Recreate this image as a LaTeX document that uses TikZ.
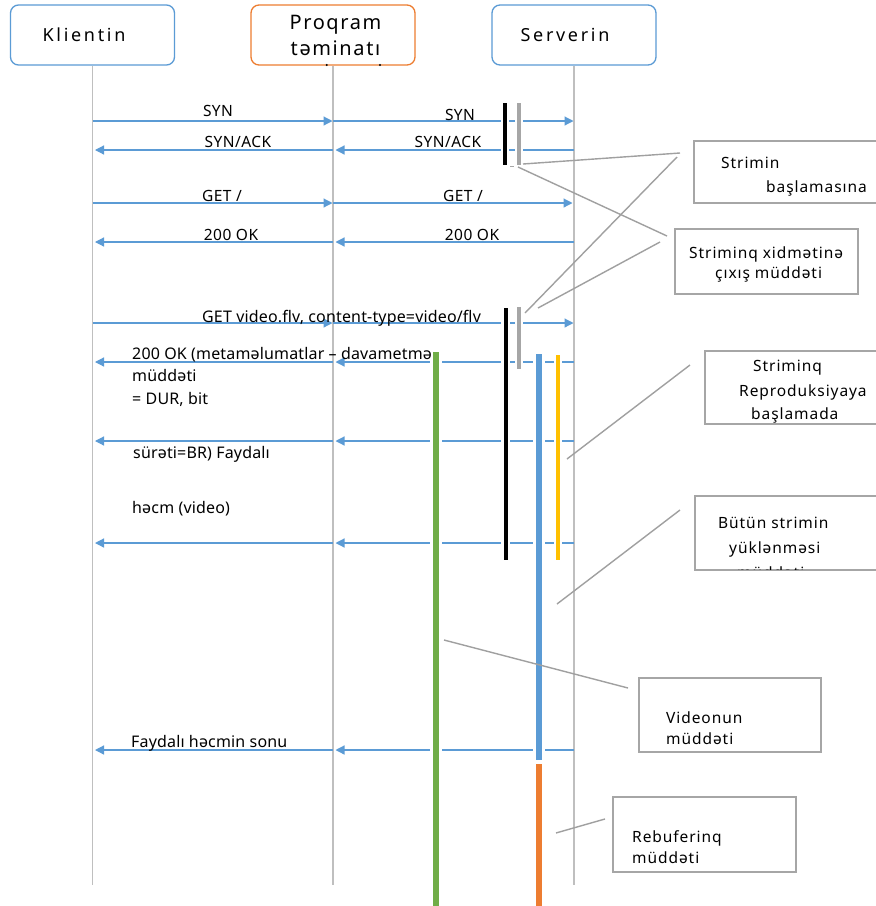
\documentclass[tikz,border=0pt]{standalone}
\usepackage{fontspec}
\setmainfont{Noto Sans}
\newfontfamily\headfont[LetterSpace=15]{Noto Sans}
\newfontfamily\progfont[LetterSpace=8]{Noto Sans}
\newfontfamily\calfont[LetterSpace=6]{Noto Sans}
\newfontfamily\lblfont[LetterSpace=3]{Noto Sans}
\newfontfamily\msgfont[LetterSpace=1]{Noto Sans}
\usetikzlibrary{arrows.meta}
\definecolor{cblue}{HTML}{5B9BD5}
\definecolor{corange}{HTML}{ED7D31}
\definecolor{cgreen}{HTML}{70AD47}
\definecolor{cyellow}{HTML}{FFC000}
\definecolor{boxgray}{HTML}{A6A6A6}
\definecolor{lifegray}{HTML}{BFBFBF}
\definecolor{leadgray}{HTML}{A0A0A0}
\newcommand\mybar[6]{%
  \draw[white, line width=#3] (#4,#5) -- (#4,#6);
  \draw[#1, line width=#2] (#4,#5) -- (#4,#6);}
\begin{document}
\begin{tikzpicture}[x=1pt,y=-1pt,
  headbox/.style={draw, rounded corners=8pt, minimum width=164pt, minimum height=60pt,
    line width=1.3pt, inner sep=0pt},
  headtxt/.style={inner sep=0pt, align=center, text=black, font=\headfont\fontsize{18}{26}\selectfont},
  life/.style={draw=lifegray, line width=1.2pt},
  msg/.style={draw=cblue, line width=1.2pt, -{Triangle[length=9pt,width=9pt]}},
  lbl/.style={inner sep=0pt, font=\lblfont\fontsize{15.5}{18}\selectfont},
  msgtxt/.style={inner sep=0pt, anchor=base west, font=\msgfont\fontsize{16}{18}\selectfont},
  cbox/.style={draw=boxgray, line width=1.6pt, inner sep=0pt},
  ctxt/.style={inner sep=0pt, anchor=base west, font=\calfont\fontsize{15.5}{18}\selectfont},
  lead/.style={draw=leadgray, line width=1.4pt}]
\useasboundingbox (0,0) rectangle (876,906);
\clip (0,0) rectangle (876,906);
\fill[white] (0,0) rectangle (876,906);

% heads
\node[headbox, draw=cblue] (K) at (92.5,35) {};
\node[headbox, draw=corange] (P) at (333,35) {};
\node[headbox, draw=cblue] (S) at (574,35) {};
\node[headtxt] (Kt) at (84,35) {Klientin};
\node[headtxt, font=\progfont\fontsize{20}{26}\selectfont, text depth=0pt] (Pt) at (335.5,35) {Proqram\\təminatı};
\node[headtxt] (St) at (565,35) {Serverin};
\fill (326.7,65) circle (1.1);
\fill (380,65) circle (1.1);

% rows
\coordinate (yend) at (0,885);
\coordinate (r1) at (0,121);
\coordinate (r2) at (0,150);
\coordinate (r3) at (0,203);
\coordinate (r4) at (0,242);
\coordinate (r5) at (0,323);
\coordinate (r6) at (0,362);
\coordinate (r7) at (0,441);
\coordinate (r8) at (0,543);
\coordinate (r9) at (0,750);

% lifelines
\draw[life] (K.south) -- (K |- yend);
\draw[life] (P.south) -- (P |- yend);
\draw[life] (S.south) -- (S |- yend);

% messages
\draw[msg, shorten >=0.5pt] (K |- r1) -- (P |- r1);
\draw[msg, shorten >=0.5pt] (P |- r1) -- (S |- r1);
\draw[msg, shorten >=2.5pt] (S |- r2) -- (P |- r2);
\draw[msg, shorten >=2.5pt] (P |- r2) -- (K |- r2);
\draw[msg, shorten >=0.5pt] (K |- r3) -- (P |- r3);
\draw[msg, shorten >=1.5pt] (P |- r3) -- (S |- r3);
\draw[msg, shorten >=2.5pt] (S |- r4) -- (P |- r4);
\draw[msg, shorten >=2.5pt] (P |- r4) -- (K |- r4);
\draw[msg, shorten >=0.5pt] (K |- r5) -- (P |- r5);
\draw[msg, shorten >=0.5pt] (P |- r5) -- (S |- r5);
\foreach \r in {r6,r7,r8,r9}{
  \draw[msg, shorten >=2.5pt] (S |- \r) -- (P |- \r);
  \draw[msg, shorten >=2.5pt] (P |- \r) -- (K |- \r);
}

% bars (with white halo)
\mybar{black}{3.5pt}{8pt}{505}{103}{165}
\mybar{boxgray}{3.7pt}{8pt}{519}{103}{165}
\draw[boxgray, line width=1.5pt] (510,166.5) -- (514,166.5);
\mybar{black}{4pt}{9pt}{505.5}{308}{560}
\mybar{boxgray}{3.7pt}{8pt}{519}{307}{369}
\mybar{cgreen}{6pt}{12pt}{436}{352}{906}
\mybar{cblue}{6.5pt}{12pt}{539}{354}{760}
\mybar{cyellow}{3.7pt}{8pt}{558}{355}{560}
\mybar{corange}{6.5pt}{12pt}{539}{764}{906}

% message labels
\node[lbl, anchor=base] (t1a) at (218,116) {SYN};
\node[lbl, anchor=base] (t1b) at (460,120) {SYN};
\node[lbl, anchor=base] (t2a) at (238,147) {SYN/ACK};
\node[lbl, anchor=base] (t2b) at (448,147) {SYN/ACK};
\node[lbl, anchor=base] (t3a) at (222,201) {GET /};
\node[lbl, anchor=base] (t3b) at (463,201) {GET /};
\node[lbl, anchor=base] (t4a) at (231,240) {200 OK};
\node[lbl, anchor=base] (t4b) at (472,240) {200 OK};
\node[msgtxt] (t5) at (202,322) {GET video.flv, content-type=video/flv};
\node[msgtxt] (t6a) at (132,359) {200 OK (metaməlumatlar – davametmə};
\node[msgtxt] (t6b) at (132,381) {müddəti};
\node[msgtxt] (t6c) at (132,404) {= DUR, bit};
\node[msgtxt] (t7) at (133,458) {sürəti=BR) Faydalı};
\node[msgtxt] (t8) at (132,513) {həcm (video)};
\node[msgtxt] (t9) at (131,747) {Faydalı həcmin sonu};

% callout boxes
\node[cbox, minimum width=196pt, minimum height=62pt] (bA) at (792,172) {};
\node[cbox, minimum width=183pt, minimum height=65pt] (bB) at (766.5,261.5) {};
\node[cbox, minimum width=185pt, minimum height=73pt] (bC) at (797.5,387.5) {};
\node[cbox, minimum width=195pt, minimum height=74pt] (bD) at (792.5,533) {};
\node[cbox, minimum width=182pt, minimum height=74pt] (bE) at (730,715) {};
\node[cbox, minimum width=183pt, minimum height=75pt] (bF) at (704.5,834.5) {};

\node[ctxt] (cA1) at (721,168) {Strimin};
\node[ctxt] (cA2) at (766,192) {başlamasına};
\node[ctxt] (cB1) at (689,258) {Striminq xidmətinə};
\node[ctxt] (cB2) at (715,278) {çıxış müddəti};
\node[ctxt] (cC1) at (753,371) {Striminq};
\node[ctxt] (cC2) at (739,396) {Reproduksiyaya};
\node[ctxt] (cC3) at (751,419) {başlamada};
\node[ctxt] (cD1) at (718,528) {Bütün strimin};
\node[ctxt] (cD2) at (729,553) {yüklənməsi};
\begin{scope}
  \clip (696,497) rectangle (890,569);
  \node[ctxt] (cD3) at (737,578) {müddəti};
\end{scope}
\node[ctxt] (cE1) at (666,723) {Videonun};
\node[ctxt] (cE2) at (666,744) {müddəti};
\node[ctxt] (cF1) at (632,842) {Rebuferinq};
\node[ctxt] (cF2) at (632,863) {müddəti};

% leader lines
\coordinate (a1) at (523,164);  \coordinate (b1) at (680,153);
\coordinate (a2) at (518,167);  \coordinate (b2) at (667,236);
\coordinate (a3) at (525,313);  \coordinate (b3) at (677,157);
\coordinate (a4) at (538,308);  \coordinate (b4) at (660,242);
\coordinate (a5) at (567,459);  \coordinate (b5) at (690,365);
\coordinate (a6) at (557,604);  \coordinate (b6) at (680,510);
\coordinate (a7) at (444,640);  \coordinate (b7) at (628,688);
\coordinate (a8) at (556,833);  \coordinate (b8) at (605,819);
\foreach \i in {1,...,8}{\draw[lead] (a\i) -- (b\i);}
\end{tikzpicture}
\end{document}
